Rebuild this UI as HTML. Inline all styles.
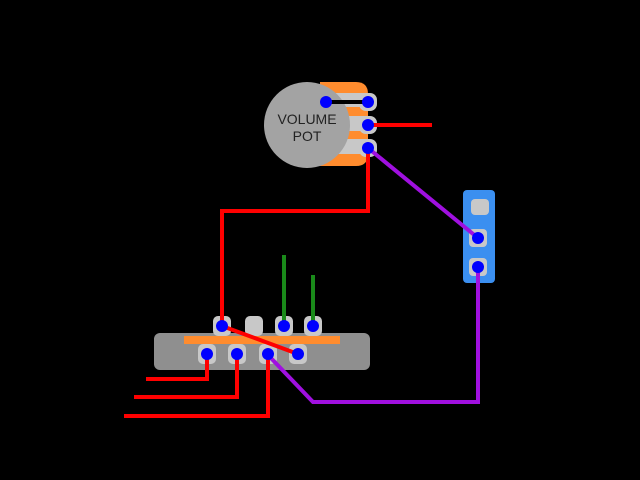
<!DOCTYPE html>
<html><head><style>html,body{margin:0;padding:0;background:#000}svg{display:block}</style></head><body>
<svg width="640" height="480" xmlns="http://www.w3.org/2000/svg">
<rect width="640" height="480" fill="#000"/>
<!-- pot -->
<path d="M320 82 H356 Q368 82 368 94 V154 Q368 166 356 166 H320 Z" fill="#ff8c2e"/>
<rect x="330" y="93" width="36" height="14" fill="#c8c8c8"/>
<rect x="330" y="116" width="36" height="15" fill="#c8c8c8"/>
<rect x="330" y="139" width="36" height="15" fill="#c8c8c8"/>
<circle cx="307" cy="125" r="43" fill="#a3a3a3"/>
<text x="307" y="124" font-family="Liberation Sans, DejaVu Sans, sans-serif" font-size="14" fill="#222" text-anchor="middle">VOLUME</text>
<text x="307" y="141" font-family="Liberation Sans, DejaVu Sans, sans-serif" font-size="14" fill="#222" text-anchor="middle">POT</text>
<g fill="#c8c8c8">
<rect x="359" y="93" width="18" height="18" rx="7"/>
<rect x="359" y="116" width="18" height="18" rx="7"/>
<rect x="359" y="139" width="18" height="18" rx="7"/>
</g>
<!-- jack -->
<rect x="463" y="190" width="32" height="93" rx="4" fill="#3b8ff0"/>
<g fill="#c8c8c8">
<rect x="471" y="199" width="18" height="16" rx="4"/>
<rect x="469" y="229" width="18" height="18" rx="4"/>
<rect x="469" y="258" width="18" height="18" rx="4"/>
</g>
<!-- switch -->
<rect x="154" y="333" width="216" height="37" rx="6" fill="#8f8f8f"/>
<rect x="184" y="336" width="156" height="8" fill="#ff8c2e"/>
<g fill="#c8c8c8">
<rect x="213" y="316" width="18" height="20" rx="5"/>
<rect x="245" y="316" width="18" height="20" rx="5"/>
<rect x="275" y="316" width="18" height="20" rx="5"/>
<rect x="304" y="316" width="18" height="20" rx="5"/>
<rect x="198" y="344" width="18" height="20" rx="5"/>
<rect x="228" y="344" width="18" height="20" rx="5"/>
<rect x="259" y="344" width="18" height="20" rx="5"/>
<rect x="289" y="344" width="18" height="20" rx="5"/>
</g>
<!-- wires -->
<g fill="none" stroke-width="4">
<line x1="326" y1="102" x2="368" y2="102" stroke="#000"/>
<line x1="368" y1="125" x2="432" y2="125" stroke="#f00"/>
<polyline points="368,148 368,211 222,211 222,326" stroke="#f00"/>
<line x1="368" y1="148" x2="478" y2="238" stroke="#a010e0"/>
<polyline points="478,267 478,402 313,402 268,355" stroke="#a010e0"/>
<line x1="222" y1="326" x2="298" y2="354" stroke="#f00"/>
<line x1="284" y1="255" x2="284" y2="326" stroke="#1a8a1a"/>
<line x1="313" y1="275" x2="313" y2="326" stroke="#1a8a1a"/>
<polyline points="207,354 207,379 146,379" stroke="#f00"/>
<polyline points="237,354 237,397 134,397" stroke="#f00"/>
<polyline points="268,354 268,416 124,416" stroke="#f00"/>
</g>
<g fill="#0000ff">
<circle cx="326" cy="102" r="6"/>
<circle cx="368" cy="102" r="6"/>
<circle cx="368" cy="125" r="6"/>
<circle cx="368" cy="148" r="6"/>
<circle cx="478" cy="238" r="6"/>
<circle cx="478" cy="267" r="6"/>
<circle cx="222" cy="326" r="6"/>
<circle cx="284" cy="326" r="6"/>
<circle cx="313" cy="326" r="6"/>
<circle cx="207" cy="354" r="6"/>
<circle cx="237" cy="354" r="6"/>
<circle cx="268" cy="354" r="6"/>
<circle cx="298" cy="354" r="6"/>
</g>
</svg>
</body></html>
